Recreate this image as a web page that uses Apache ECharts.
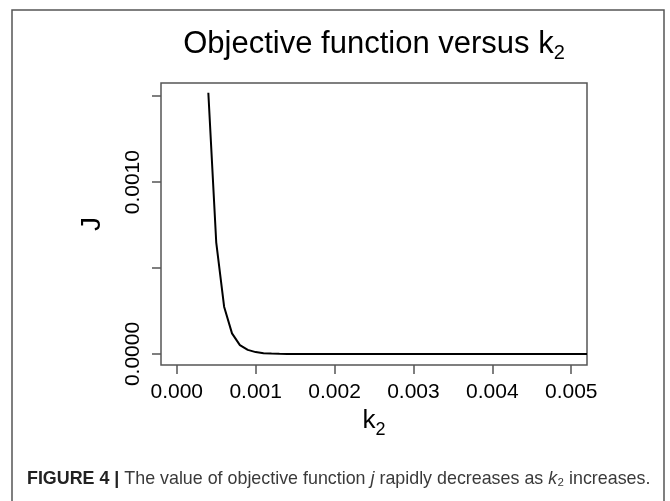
<!DOCTYPE html>
<html>
<head>
<meta charset="utf-8">
<script src="https://cdn.jsdelivr.net/npm/echarts@6/dist/echarts.min.js"></script>
<style>
  html, body { margin: 0; padding: 0; background: #fff; }
  #chart { width: 670px; height: 501px; }
</style>
</head>
<body>
<div id="chart"></div>
<script>
// objective function J against k2
var k2Values = [0.0004, 0.0005, 0.0006, 0.0007, 0.0008, 0.0009, 0.0010, 0.0011, 0.0012, 0.0013,
                0.0014, 0.0015, 0.0020, 0.0025, 0.0030, 0.0035, 0.0040, 0.0045, 0.0050, 0.0052];
var jValues = [0.00152, 0.00065, 0.000275, 0.00012, 0.000052, 0.000024, 0.000011, 0.000005, 0.0000025, 0.000001,
               0.0000005, 0.0000002, 0, 0, 0, 0, 0, 0, 0, 0];
var xTicks = [0, 0.001, 0.002, 0.003, 0.004, 0.005];
var yTicks = [0, 0.0005, 0.0010, 0.0015];
var yLabels = [0, 0.0010];

var points = [];
for (var i = 0; i < k2Values.length; i++) {
    points.push([k2Values[i], jValues[i]]);
}

var myChart = echarts.init(document.getElementById('chart'));
var font = '"Liberation Sans", Arial, Helvetica, sans-serif';
option = {
    animation: false,
    grid: {
        left: 161,
        top: 83,
        right: 83,
        bottom: 136,
        show: true,
        borderColor: '#555',
        borderWidth: 1.5,
        backgroundColor: 'transparent'
    },
    xAxis: {
        type: 'value',
        min: -0.0002,
        max: 0.0052,
        name: '{k|k}{s|2}',
        nameLocation: 'middle',
        nameGap: 38,
        nameMoveOverlap: false,
        nameTextStyle: {
            rich: {
                k: { fontFamily: font, fontSize: 26, color: '#000', verticalAlign: 'middle' },
                s: { fontFamily: font, fontSize: 18, color: '#000', verticalAlign: 'bottom', padding: [18, 0, 0, 0] }
            }
        },
        axisLine: { show: false, onZero: false },
        splitLine: { show: false },
        axisTick: {
            show: true,
            length: 9,
            customValues: xTicks,
            lineStyle: { color: '#555', width: 1.5 }
        },
        axisLabel: {
            customValues: xTicks,
            margin: 17,
            fontFamily: font,
            fontSize: 21,
            color: '#000',
            formatter: function (v) { return v.toFixed(3); }
        }
    },
    yAxis: {
        type: 'value',
        min: -0.000064,
        max: 0.001577,
        name: 'J',
        nameLocation: 'middle',
        nameRotate: 90,
        nameGap: 55,
        nameMoveOverlap: false,
        nameTextStyle: { fontFamily: font, fontSize: 28, color: '#000' },
        axisLine: { show: false, onZero: false },
        splitLine: { show: false },
        axisTick: {
            show: true,
            length: 9,
            customValues: yTicks,
            lineStyle: { color: '#555', width: 1.5 }
        },
        axisLabel: {
            customValues: yLabels,
            rotate: 90,
            margin: 17,
            fontFamily: font,
            fontSize: 21,
            color: '#000',
            formatter: function (v) { return v.toFixed(4); }
        }
    },
    graphic: [
        {
            type: 'rect',
            shape: { x: 12, y: 10, width: 652, height: 520 },
            style: { fill: 'none', stroke: '#555', lineWidth: 1.5 },
            silent: true
        },
        {
            type: 'text',
            x: 374,
            y: 44,
            style: {
                text: '{m|Objective function versus k}{s|2}',
                align: 'center',
                verticalAlign: 'middle',
                rich: {
                    m: { fontFamily: font, fontSize: 31, fill: '#000', verticalAlign: 'middle' },
                    s: { fontFamily: font, fontSize: 20, fill: '#000', verticalAlign: 'bottom', padding: [18, 0, 0, 0] }
                }
            }
        },
        {
            type: 'text',
            x: 27,
            y: 479,
            scaleX: 0.94,
            style: {
                text: '{b|FIGURE 4 | }{n|The value of objective function }{i|j}{n| rapidly decreases as }{i|k}{n|\u2082 increases.}',
                verticalAlign: 'middle',
                rich: {
                    b: { fontFamily: font, fontSize: 19, fontWeight: 'bold', fill: '#222' },
                    n: { fontFamily: font, fontSize: 19, fill: '#3a3a3a' },
                    i: { fontFamily: font, fontSize: 19, fontStyle: 'italic', fill: '#3a3a3a' }
                }
            }
        }
    ],
    series: [
        {
            type: 'line',
            data: points,
            showSymbol: false,
            clip: true,
            lineStyle: { color: '#000', width: 2 }
        }
    ]
};
myChart.setOption(option);
</script>
</body>
</html>
